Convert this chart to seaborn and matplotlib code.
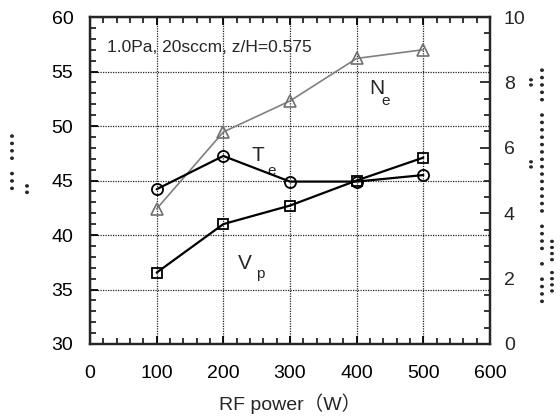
import matplotlib
matplotlib.use("Agg")
import matplotlib.pyplot as plt
import seaborn as sns
import pandas as pd
from matplotlib.ticker import MultipleLocator

# ---- data (plotted on left-axis scale) ----
power = [100, 200, 300, 400, 500]
ne_vals = [42.4, 49.45, 52.3, 56.2, 57.0]
te_vals = [44.2, 47.25, 44.9, 44.9, 45.5]
vp_vals = [36.55, 41.0, 42.7, 45.0, 47.1]
x_ticks = [0, 100, 200, 300, 400, 500, 600]
left_ticks = [30, 35, 40, 45, 50, 55, 60]
right_ticks = [0, 2, 4, 6, 8, 10]
condition_text = "1.0Pa, 20sccm, z/H=0.575"
x_label = "RF power（W）"

sns.set_theme(style="ticks")
plt.rcParams['font.family'] = ['Liberation Sans', 'Noto Sans CJK JP', 'DejaVu Sans']

fig = plt.figure(figsize=(5.6, 4.19), dpi=100)
ax = fig.add_axes([90/560, 1-344/419, 400/560, 327/419])

df = pd.DataFrame({"power": power, "Ne": ne_vals, "Te": te_vals, "Vp": vp_vals})

sns.lineplot(data=df, x="power", y="Ne", ax=ax, color="#808080", lw=1.2,
             marker="^", markersize=8, markerfacecolor="none",
             markeredgecolor="#707070", markeredgewidth=1.2, zorder=3)
sns.lineplot(data=df, x="power", y="Te", ax=ax, color="black", lw=1.6,
             marker="o", markersize=8, markerfacecolor="none",
             markeredgecolor="black", markeredgewidth=1.3, zorder=4)
sns.lineplot(data=df, x="power", y="Vp", ax=ax, color="black", lw=1.6,
             marker="s", markersize=7.5, markerfacecolor="none",
             markeredgecolor="black", markeredgewidth=1.3, zorder=4)

ax.set_xlim(0, 600)
ax.set_ylim(30, 60)
ax.set_xticks(x_ticks)
ax.set_yticks(left_ticks)
ax.xaxis.set_minor_locator(MultipleLocator(20))
ax.yaxis.set_minor_locator(MultipleLocator(1))
ax.set_xlabel(x_label, fontsize=14, labelpad=8)
ax.set_ylabel("")
ax.grid(True, which="major", color="#222222", linestyle=(0, (1, 1)), lw=0.9)
ax.tick_params(axis="both", which="major", direction="in", length=6, width=1.3,
               labelsize=14, colors="black")
ax.tick_params(axis="both", which="minor", direction="in", length=4, width=1.3)
ax.tick_params(axis="y", which="major", pad=12)
ax.tick_params(axis="x", which="major", pad=15)
ax.tick_params(axis="x", which="both", top=True)
for s in ax.spines.values():
    s.set_linewidth(1.6)
    s.set_color("black")

ax2 = ax.twinx()
ax2.set_ylim(0, 10)
ax2.set_yticks(right_ticks)
ax2.yaxis.set_minor_locator(MultipleLocator(0.5))
ax2.tick_params(axis="y", which="major", direction="in", length=7, width=1.3,
                labelsize=14, pad=10)
ax2.tick_params(axis="y", which="minor", direction="in", length=4, width=1.3)
for s in ax2.spines.values():
    s.set_linewidth(1.6)
ax2.grid(False)

# annotations
ax.text(25, 57.2, condition_text, fontsize=12.5, ha="left", va="center")
ax.text(430, 53.4, "N", fontsize=15, ha="center", va="center")
ax.text(444, 52.3, "e", fontsize=11, ha="center", va="center")
ax.text(252, 47.3, "T", fontsize=15, ha="center", va="center")
ax.text(273, 45.9, "e", fontsize=11, ha="center", va="center")
ax.text(232, 37.4, "V", fontsize=15, ha="center", va="center")
ax.text(255, 36.4, "p", fontsize=11, ha="center", va="center")

# garbled axis titles (rendered as dot columns in the reference)
dot_kw = dict(rotation=90, ha="center", va="center",
              family="DejaVu Sans", linespacing=1)
fig.text(15/560, 1-161/419, "•••  ••••", fontsize=9, **dot_kw)
fig.text(28/560, 1-187/419, "••", fontsize=9, **dot_kw)
fig.text(544/560, 1-185/419, "••••  •  ••••  ••••••••••••••  •••••",
         fontsize=9, **dot_kw)
fig.text(532/560, 1-80/419, "••", fontsize=7, fontweight="bold", **dot_kw)
fig.text(532/560, 1-162/419, "••", fontsize=7, fontweight="bold", **dot_kw)
fig.text(554/560, 1-265/419, "••••  ••••", fontsize=7, fontweight="bold", **dot_kw)

fig.savefig("out.png", dpi=100, facecolor="white")
